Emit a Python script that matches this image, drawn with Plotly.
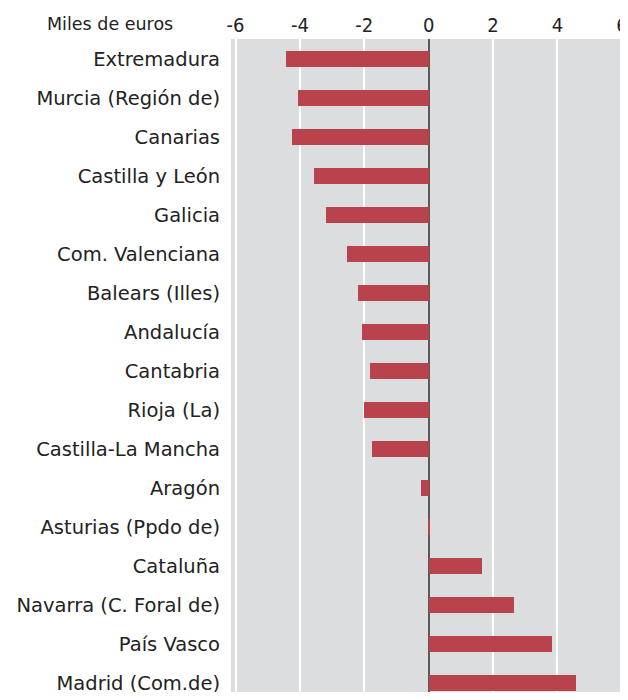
import plotly.graph_objects as go

regions = ["Extremadura", "Murcia (Región de)", "Canarias", "Castilla y León", "Galicia",
           "Com. Valenciana", "Balears (Illes)", "Andalucía", "Cantabria", "Rioja (La)",
           "Castilla-La Mancha", "Aragón", "Asturias (Ppdo de)", "Cataluña",
           "Navarra (C. Foral de)", "País Vasco", "Madrid (Com.de)"]
values = [-4.43, -4.06, -4.25, -3.56, -3.19,
          -2.54, -2.20, -2.07, -1.82, -2.01,
          -1.76, -0.24, 0.03, 1.65,
          2.65, 3.83, 4.57]
x_ticks = [-6, -4, -2, 0, 2, 4, 6]
unit_label = "Miles de euros"

label_font = "DejaVu Sans, Open Sans, Arial, sans-serif"
tick_font = "DejaVu Sans Condensed, Liberation Sans Narrow, Arial Narrow, DejaVu Sans, sans-serif"

fig = go.Figure(go.Bar(
    x=values, y=list(range(len(regions))), orientation="h",
    marker=dict(color="#b9434d", line=dict(width=0)),
    width=0.41,
))

# page body has an 8px margin; size the figure so the page does not scroll
fig.update_layout(
    width=620, height=684,
    margin=dict(l=223, r=0, t=31, b=0),
    paper_bgcolor="white", plot_bgcolor="#dcdddf",
    showlegend=False,
    bargap=0,
    xaxis=dict(
        side="top", range=[-6.14, 6.19], automargin=False,
        tickvals=x_ticks, ticktext=[str(v) for v in x_ticks],
        showgrid=True, gridcolor="white", gridwidth=1.5,
        zeroline=True, zerolinecolor="#5a5a5a", zerolinewidth=1.5,
        tickfont=dict(family=tick_font, size=20, color="#222222"),
        ticks="", showline=False, fixedrange=True,
        ticklabelstandoff=2, ticklabeloverflow="allow",
    ),
    yaxis=dict(
        tickvals=list(range(len(regions))), ticktext=regions,
        range=[16.234, -0.51], automargin=False,
        showgrid=False, zeroline=False, ticks="",
        tickfont=dict(family=label_font, size=19.5, color="#222222"),
        ticklabelstandoff=10, fixedrange=True, ticklabeloverflow="allow",
    ),
    annotations=[dict(
        text=unit_label, xref="paper", yref="paper",
        x=-0.141, y=1.0, xanchor="right", yanchor="bottom", yshift=3,
        showarrow=False,
        font=dict(family=label_font, size=17.5, color="#222222"),
    )],
)

fig.write_html("out.html")
